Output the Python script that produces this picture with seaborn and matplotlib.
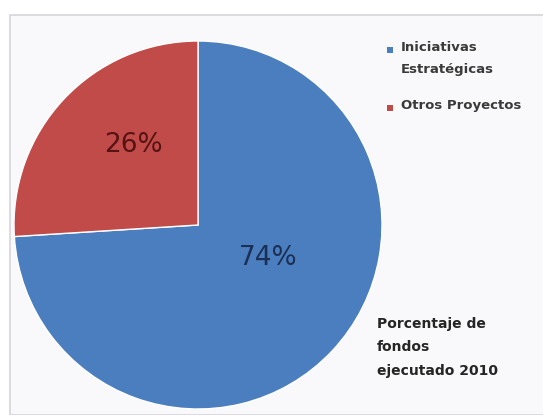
import matplotlib
matplotlib.use("Agg")
import matplotlib.pyplot as plt
import seaborn as sns
from matplotlib.patches import Rectangle

sns.set_theme(style="white")
plt.rcParams['font.family'] = ['DejaVu Sans']

categories = ["Iniciativas\nEstratégicas", "Otros Proyectos"]
values = [74, 26]
colors = ["#4A7EBE", "#C04B48"]
pct_labels = ["74%", "26%"]
title_note = "Porcentaje de\nfondos\nejecutado 2010"

W, H = 543, 415
fig = plt.figure(figsize=(W / 100, H / 100), dpi=100)
fig.patch.set_facecolor("white")

# chart area border
fig.patches.append(Rectangle((10 / W, 0), 1.0, (H - 15) / H, transform=fig.transFigure,
                             facecolor="#F9F9FC", edgecolor="#D6D6DA", linewidth=1.2, zorder=-5))

cx, cy, r = 198, 225, 184
ax = fig.add_axes([(cx - r) / W, (H - cy - r) / H, 2 * r / W, 2 * r / H])
ax.set_zorder(3)
ax.set_facecolor("none")
wedges, _ = ax.pie(values, colors=colors, startangle=90, counterclock=False,
                   wedgeprops=dict(edgecolor="white", linewidth=1.0), radius=1.0)
ax.set_xlim(-1, 1)
ax.set_ylim(-1, 1)
ax.set_aspect("auto")
ax.axis("off")

# percentage labels
ax.text((268 - cx) / r, -(258 - cy) / r, pct_labels[0], ha="center", va="center",
        fontsize=19, color="#1C2F55")
ax.text((133 - cx) / r, -(145 - cy) / r, pct_labels[1], ha="center", va="center",
        fontsize=19, color="#561313")

# legend
leg_y = [50, 108]
for lab, col, y in zip(categories, colors, leg_y):
    fig.patches.append(Rectangle((387 / W, (H - y - 3) / H), 6 / W, 6 / H,
                                 transform=fig.transFigure, facecolor=col, edgecolor="none"))
    fig.text(401 / W, (H - y + 9) / H, lab, ha="left", va="top", fontsize=9.5,
             color="#3A3A3A", fontweight="bold", linespacing=1.9)

fig.text(377 / W, (H - 317) / H, title_note, ha="left", va="top", fontsize=10,
         color="#252525", fontweight="bold", linespacing=1.85)

fig.savefig("out.png", dpi=100)
